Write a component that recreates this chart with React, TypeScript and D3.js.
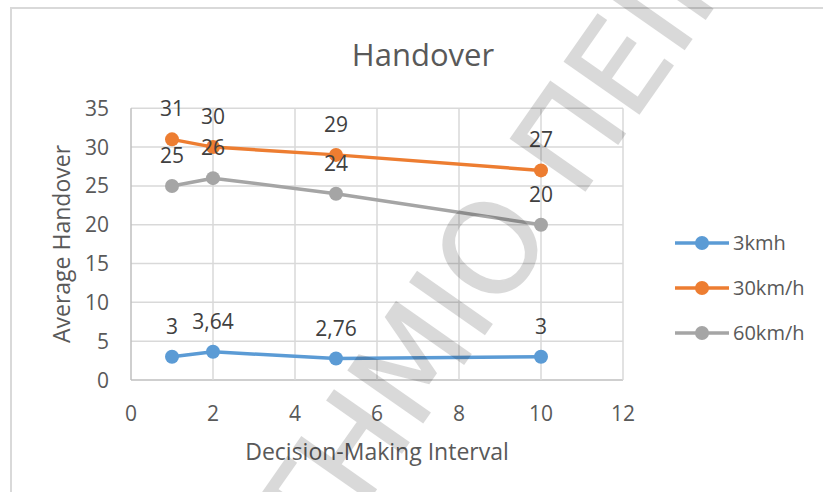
import React from "react";
import * as d3 from "d3";

const intervals = [1, 2, 5, 10];
const series3kmh = [3, 3.64, 2.76, 3];
const series30kmh = [31, 30, 29, 27];
const series60kmh = [25, 26, 24, 20];
const seriesNames = ["3kmh", "30km/h", "60km/h"];
const seriesColors = ["#5b9bd5", "#ed7d31", "#a5a5a5"];
const xTicks = [0, 2, 4, 6, 8, 10, 12];
const yTicks = [0, 5, 10, 15, 20, 25, 30, 35];

const W = 823;
const H = 492;
const FONT = "'Open Sans', 'Noto Sans', sans-serif";

const fmt = (v: number) => String(v).replace(".", ",");

export default function App() {
  const x = d3.scaleLinear().domain([0, 12]).range([131, 623]);
  const y = d3.scaleLinear().domain([0, 35]).range([380, 108.3]);
  const allSeries = [series3kmh, series30kmh, series60kmh];
  const line = d3
    .line<number>()
    .x((_, i) => x(intervals[i]))
    .y((d) => y(d));

  const legendY = [243, 288, 333];

  return (
    <svg
      width={W}
      height={H}
      style={{ position: "fixed", left: 0, top: 0, background: "#fff" }}
      fontFamily={FONT}
    >
      <rect x={0} y={0} width={W} height={H} fill="#fff" />
      <rect x={11} y={8} width={W + 20} height={H + 20} fill="none" stroke="#d9d9d9" strokeWidth={2} />

      <text x={423} y={66} textAnchor="middle" fontSize={31} fill="#595959">
        Handover
      </text>

      {/* gridlines */}
      {yTicks.map((t) => (
        <line key={"gy" + t} x1={x(0)} x2={x(12)} y1={y(t)} y2={y(t)} stroke={t === 0 ? "#bfbfbf" : "#d9d9d9"} strokeWidth={1.5} />
      ))}
      {xTicks.map((t) => (
        <line key={"gx" + t} x1={x(t)} x2={x(t)} y1={y(0)} y2={y(35)} stroke={t === 0 ? "#bfbfbf" : "#d9d9d9"} strokeWidth={1.5} />
      ))}

      {/* tick labels */}
      {yTicks.map((t) => (
        <text key={"ty" + t} x={109} y={y(t)} dy="0.36em" textAnchor="end" fontSize={21} fill="#595959">
          {t}
        </text>
      ))}
      {xTicks.map((t) => (
        <text key={"tx" + t} x={x(t)} y={421} textAnchor="middle" fontSize={21} fill="#595959">
          {t}
        </text>
      ))}

      <text x={377} y={460} textAnchor="middle" fontSize={23} fill="#595959">
        Decision-Making Interval
      </text>
      <text transform="translate(70,244) rotate(-90)" textAnchor="middle" fontSize={23} fill="#595959">
        Average Handover
      </text>

      {/* series */}
      {allSeries.map((s, si) => (
        <g key={"s" + si}>
          <path d={line(s) || ""} fill="none" stroke={seriesColors[si]} strokeWidth={3.5} strokeLinejoin="round" strokeLinecap="round" />
          {s.map((v, i) => (
            <circle key={i} cx={x(intervals[i])} cy={y(v)} r={7} fill={seriesColors[si]} />
          ))}
        </g>
      ))}

      {/* data labels */}
      {allSeries.map((s, si) => (
        <g key={"l" + si}>
          {s.map((v, i) => (
            <text key={i} x={x(intervals[i])} y={y(v) - 23} textAnchor="middle" fontSize={21} fill="#404040">
              {fmt(v)}
            </text>
          ))}
        </g>
      ))}

      {/* legend */}
      {seriesNames.map((n, i) => (
        <g key={"lg" + i}>
          <line x1={675} x2={729} y1={legendY[i]} y2={legendY[i]} stroke={seriesColors[i]} strokeWidth={3.5} />
          <circle cx={702} cy={legendY[i]} r={7} fill={seriesColors[i]} />
          <text x={733} y={legendY[i]} dy="0.36em" fontSize={20} fill="#595959">
            {n}
          </text>
        </g>
      ))}

      {/* watermark */}
      <g
        transform="translate(499,314) rotate(-55)"
        opacity={0.145}
        fill="#000"
        stroke="#000"
        strokeWidth={1.5}
        fontFamily="'DejaVu Sans', sans-serif"
        fontSize={125}
      >
        <text textAnchor="end">ΠΑΝΕΠΙΣΤΗΜΙ</text>
        <text textAnchor="start">Ο ΠΕΙΡΑΙΩΣ</text>
      </g>
    </svg>
  );
}
